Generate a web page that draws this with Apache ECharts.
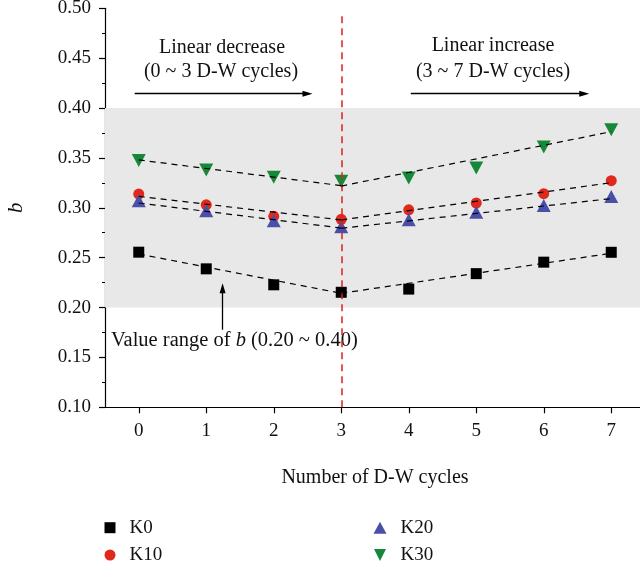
<!DOCTYPE html>
<html>
<head>
<meta charset="utf-8">
<script src="https://cdn.jsdelivr.net/npm/echarts@6/dist/echarts.min.js"></script>
<style>
html,body{margin:0;padding:0;background:#fff;}
#chart{width:640px;height:571px;}
</style>
</head>
<body>
<div id="chart"></div>
<script>
// ---- data ----
const cycles = ['0', '1', '2', '3', '4', '5', '6', '7'];
const seriesNames = ['K0', 'K10', 'K20', 'K30'];
const K0 = [0.2555, 0.2388, 0.2228, 0.2153, 0.2185, 0.2340, 0.2455, 0.2554];
const K10 = [0.3138, 0.3030, 0.2915, 0.2885, 0.2980, 0.3048, 0.3142, 0.3272];
const K20 = [0.3070, 0.2970, 0.2870, 0.2810, 0.2880, 0.2955, 0.3023, 0.3113];
const K30 = [0.3474, 0.3380, 0.3307, 0.3267, 0.3299, 0.3399, 0.3610, 0.3783];
// fitted dashed lines: [value at cycle 0, value at cycle 3] and [value at 3, value at 7]
const fitX_dec = [0, 3];
const fitX_inc = [3, 7];
const K0_fitDec = [0.2537, 0.2143];
const K0_fitInc = [0.2143, 0.2544];
const K10_fitDec = [0.3115, 0.2878];
const K10_fitInc = [0.2878, 0.3252];
const K20_fitDec = [0.3048, 0.2797];
const K20_fitInc = [0.2795, 0.3092];
const K30_fitDec = [0.3480, 0.3222];
const K30_fitInc = [0.3218, 0.3763];
// annotations
const bandRange = [0.20, 0.40];
const splitCycle = 3;
const arrowDec = [[-0.06, 0.4144], [2.50, 0.4144]];
const arrowInc = [[4.03, 0.4144], [6.60, 0.4144]];
const arrowRange = [[1.242, 0.1778], [1.242, 0.2193]];

const FONT = 'Liberation Serif';
const colors = { K0: '#000000', K10: '#e0281c', K20: '#4a4faa', K30: '#17883a' };

function pairs(xs, ys) { return xs.map((x, i) => [x, ys[i]]); }

const chart = echarts.init(document.getElementById('chart'), null, { renderer: 'canvas' });

const dash = { color: '#000', width: 1.2, type: [6, 5] };
function fitSeries(xs, ys) {
  return {
    type: 'line', xAxisIndex: 1, yAxisIndex: 0, data: pairs(xs, ys),
    symbol: 'none', lineStyle: dash, z: 5, silent: true, animation: false
  };
}
const legendText = { fontFamily: FONT, fontSize: 19, color: '#111', lineHeight: 21, padding: [0, 0, 0, 9] };

const option = {
  animation: false,
  textStyle: { fontFamily: FONT },
  grid: { left: 105, right: -5, top: 8.3, bottom: 163.7, containLabel: false, outerBoundsMode: 'none' },
  xAxis: [
    {
      type: 'category', data: cycles, boundaryGap: true,
      name: 'Number of D-W cycles', nameLocation: 'middle', nameGap: 60,
      nameTextStyle: { fontFamily: FONT, fontSize: 20, color: '#111' },
      axisLine: { show: true, onZero: false, lineStyle: { color: '#000', width: 1.2 } },
      axisTick: { show: true, alignWithLabel: true, length: 6, lineStyle: { color: '#000', width: 1.2 } },
      axisLabel: { fontFamily: FONT, fontSize: 19, color: '#111', margin: 14 },
      splitLine: { show: false }
    },
    {
      type: 'value', min: -0.5, max: 7.5, show: false,
      axisLine: { onZero: false },
      splitLine: { show: false }
    }
  ],
  yAxis: {
    type: 'value', min: 0.10, max: 0.50, interval: 0.05,
    name: 'b', nameLocation: 'middle', nameGap: 78, nameRotate: 90,
    nameTextStyle: { fontFamily: FONT, fontSize: 21, fontStyle: 'italic', color: '#111' },
    axisLine: { show: true, onZero: false, lineStyle: { color: '#000', width: 1.2 } },
    axisTick: { show: true, length: 6, lineStyle: { color: '#000', width: 1.2 } },
    minorTick: { show: true, splitNumber: 2, length: 3, lineStyle: { color: '#000', width: 1 } },
    axisLabel: { fontFamily: FONT, fontSize: 19, color: '#111', margin: 14,
      formatter: v => v.toFixed(2) },
    splitLine: { show: false }
  },
  legend: [
    {
      data: ['K0', 'K10'], orient: 'vertical', left: 104.5, top: 517.2, padding: 0,
      itemWidth: 11, itemHeight: 11, itemGap: 6.3, textStyle: legendText
    },
    {
      data: ['K20', 'K30'], orient: 'vertical', left: 373.5, top: 517.2, padding: 0,
      itemWidth: 13, itemHeight: 12, itemGap: 6.3, textStyle: legendText
    }
  ],
  series: [
    // helper series for band, vertical split line and arrows
    {
      type: 'line', xAxisIndex: 1, yAxisIndex: 0, data: [], silent: true, z: 1,
      markArea: {
        silent: true,
        itemStyle: { color: '#e8e8e8' },
        data: [[{ yAxis: bandRange[0] }, { yAxis: bandRange[1] }]]
      }
    },
    {
      type: 'line', xAxisIndex: 1, yAxisIndex: 0, data: [], silent: true, z: 2,
      markLine: {
        silent: true, animation: false,
        label: { show: false },
        data: [
          [{ coord: [splitCycle, 0.10], symbol: 'none' }, { coord: [splitCycle, 0.497], symbol: 'none',
            lineStyle: { color: '#e0201a', width: 1.5, type: [7, 5], opacity: 1 } }],
          [{ coord: arrowDec[0], symbol: 'none' }, { coord: arrowDec[1], symbol: 'triangle', symbolSize: [6, 10],
            lineStyle: { color: '#000', width: 1.3, type: 'solid' } }],
          [{ coord: arrowInc[0], symbol: 'none' }, { coord: arrowInc[1], symbol: 'triangle', symbolSize: [6, 10],
            lineStyle: { color: '#000', width: 1.3, type: 'solid' } }],
          [{ coord: arrowRange[0], symbol: 'none' }, { coord: arrowRange[1], symbol: 'triangle', symbolSize: [6, 10],
            lineStyle: { color: '#000', width: 1.3, type: 'solid' } }]
        ]
      }
    },
    { name: 'K0', type: 'scatter', data: K0, symbol: 'rect', symbolSize: 11,
      itemStyle: { color: colors.K0, opacity: 1 }, z: 3 },
    { name: 'K10', type: 'scatter', data: K10, symbol: 'circle', symbolSize: 11,
      itemStyle: { color: colors.K10, opacity: 1 }, z: 3 },
    { name: 'K20', type: 'scatter', data: K20, symbol: 'triangle', symbolSize: [14, 13],
      itemStyle: { color: colors.K20, opacity: 1 }, z: 3 },
    { name: 'K30', type: 'scatter', data: K30, symbol: 'path://M0,0 L10,0 L5,10 Z', symbolSize: [14, 13],
      itemStyle: { color: colors.K30, opacity: 1 }, z: 3 },
    fitSeries(fitX_dec, K0_fitDec), fitSeries(fitX_inc, K0_fitInc),
    fitSeries(fitX_dec, K10_fitDec), fitSeries(fitX_inc, K10_fitInc),
    fitSeries(fitX_dec, K20_fitDec), fitSeries(fitX_inc, K20_fitInc),
    fitSeries(fitX_dec, K30_fitDec), fitSeries(fitX_inc, K30_fitInc)
  ],
  graphic: [
    { type: 'text', x: 222, y: 48, style: { text: 'Linear decrease', font: '20px "Liberation Serif"', fill: '#111', align: 'center', verticalAlign: 'middle' } },
    { type: 'text', x: 221, y: 72, style: { text: '(0 ~ 3 D-W cycles)', font: '20px "Liberation Serif"', fill: '#111', align: 'center', verticalAlign: 'middle' } },
    { type: 'text', x: 493, y: 46, style: { text: 'Linear increase', font: '20px "Liberation Serif"', fill: '#111', align: 'center', verticalAlign: 'middle' } },
    { type: 'text', x: 493, y: 72, style: { text: '(3 ~ 7 D-W cycles)', font: '20px "Liberation Serif"', fill: '#111', align: 'center', verticalAlign: 'middle' } },
    { type: 'text', x: 111, y: 341, style: {
        text: '{n|Value range of }{i|b}{n| (0.20 ~ 0.40)}',
        rich: {
          n: { fontFamily: FONT, fontSize: 20.5, fill: '#111', color: '#111' },
          i: { fontFamily: FONT, fontSize: 20.5, fontStyle: 'italic', fill: '#111', color: '#111' }
        },
        align: 'left', verticalAlign: 'middle' } }
  ]
};
chart.setOption(option);
</script>
</body>
</html>
